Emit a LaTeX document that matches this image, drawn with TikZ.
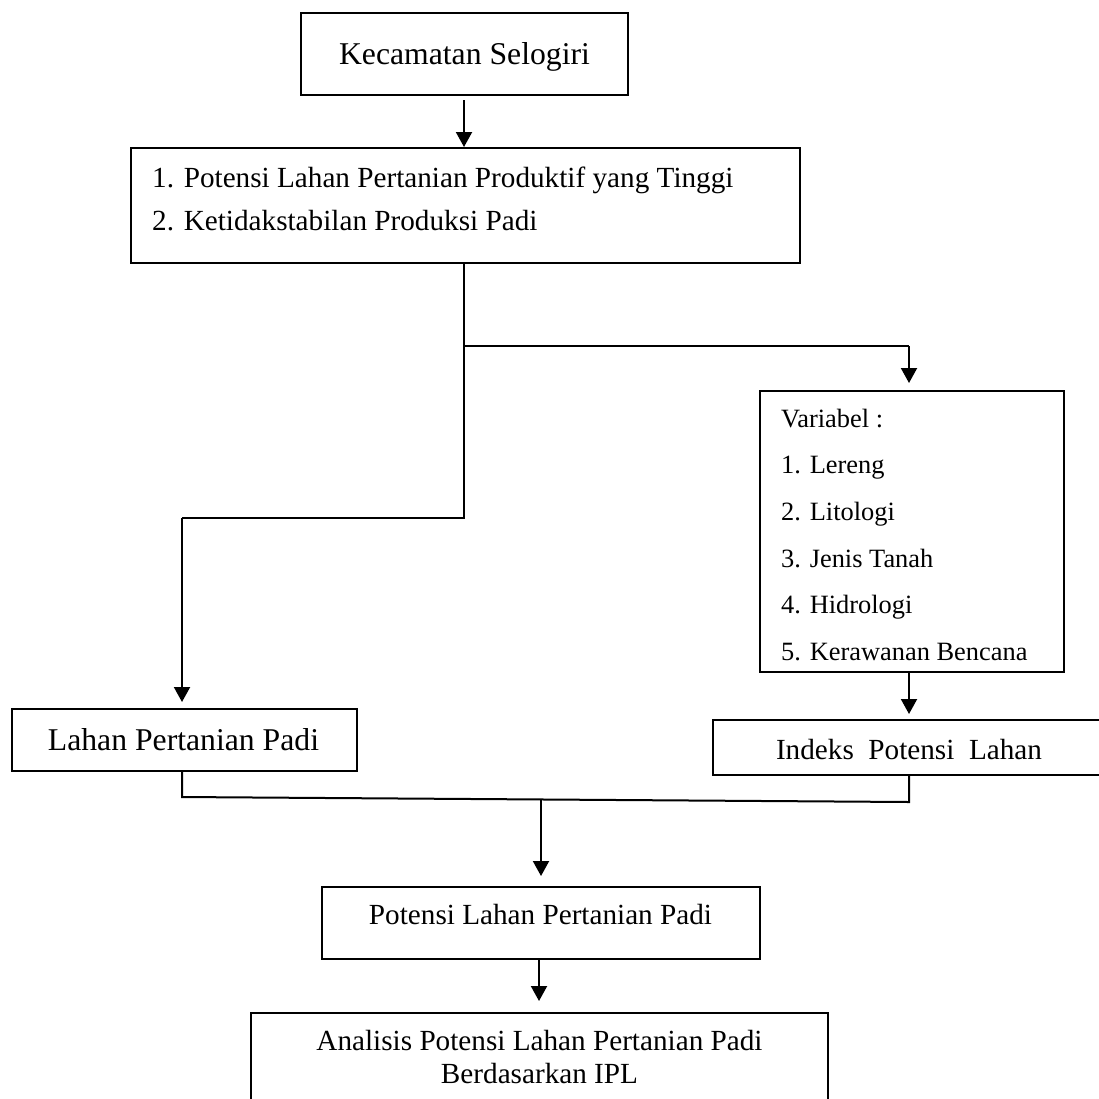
\documentclass[tikz,border=0pt]{standalone}
\usepackage{fontspec}
\setmainfont{Liberation Serif}
\usetikzlibrary{arrows.meta}
\tikzset{
  box/.style={draw, line width=2pt, rectangle, inner sep=0pt},
  conn/.style={line width=2pt},
  arr/.style={line width=2pt, -{Triangle[length=15pt, width=16pt]}},
  txt/.style={inner sep=0pt, anchor=base},
  txtw/.style={inner sep=0pt, anchor=base west},
  fbig/.style={font=\fontsize{31.7}{38}\selectfont},
  fmid/.style={font=\fontsize{29.2}{35}\selectfont},
  fsmall/.style={font=\fontsize{26.4}{32}\selectfont}
}
\begin{document}
\begin{tikzpicture}[x=1pt, y=-1pt]
\useasboundingbox (0,0) rectangle (1099,1098);
\clip (0,0) rectangle (1099,1098);
\fill[white] (0,0) rectangle (1099,1098);

% boxes
\node[box, minimum width=327pt, minimum height=82pt] (b1) at (464.5,54) {};
\node[box, minimum width=669pt, minimum height=115pt] (b2) at (465.5,205.5) {};
\node[box, minimum width=304pt, minimum height=281pt] (b3) at (912,531.5) {};
\node[box, minimum width=345pt, minimum height=62pt] (b4) at (184.5,740) {};
\node[box, minimum width=392pt, minimum height=55pt] (b5) at (909,747.5) {};
\node[box, minimum width=438pt, minimum height=72pt] (b6) at (541,923) {};
\node[box, minimum width=577pt, minimum height=117pt] (b7) at (539.5,1071.5) {};

% texts
\node[txt, fbig] (t1) at (464.5,64.5) {Kecamatan Selogiri};
\node[txtw, fmid] (t2a) at (152,187) {1. Potensi Lahan Pertanian Produktif yang Tinggi};
\node[txtw, fmid] (t2b) at (152,230) {2. Ketidakstabilan Produksi Padi};
\node[txtw, fsmall] (t3a) at (781,427) {Variabel :};
\node[txtw, fsmall] (t3b) at (781,473) {1. Lereng};
\node[txtw, fsmall] (t3c) at (781,520) {2. Litologi};
\node[txtw, fsmall] (t3d) at (781,567) {3. Jenis Tanah};
\node[txtw, fsmall] (t3e) at (781,613) {4. Hidrologi};
\node[txtw, fsmall] (t3f) at (781,660) {5. Kerawanan Bencana};
\node[txt, fbig] (t4) at (183.5,750) {Lahan Pertanian Padi};
\node[txt, fmid] (t5) at (909,759) {Indeks~ Potensi~ Lahan};
\node[txt, fmid] (t6) at (540.5,924.5) {Potensi Lahan Pertanian Padi};
\node[txt, fmid] (t7a) at (539.5,1050) {Analisis Potensi Lahan Pertanian Padi};
\node[txt, fmid] (t7b) at (539.5,1083) {Berdasarkan IPL};

% junction coordinates
\coordinate (j1) at (464,346);
\coordinate (j2) at (464,518);
\coordinate (j3) at (182,518);
\coordinate (j4) at (909,346);
\coordinate (k1) at (182,797);
\coordinate (k2) at (909,802);
\coordinate (k3) at (541,799.5);
\coordinate (k4) at (539,959);

% connectors
\draw[arr, shorten <=4pt] (j1 |- b1.south) -- (j1 |- b2.north);
\draw[conn] (j1 |- b2.south) -- (j2) -- (j3);
\draw[conn] (j1) -- (j4);
\draw[arr, shorten >=7pt] (j4) -- (j4 |- b3.north);
\draw[arr, shorten >=6pt] (j3) -- (j3 |- b4.north);
\draw[arr, shorten >=5pt] (j4 |- b3.south) -- (j4 |- b5.north);
\draw[conn] (k1 |- b4.south) -- (k1) -- (k2) -- (b5.south);
\draw[arr, shorten >=10pt] (k3) -- (k3 |- b6.north);
\draw[arr, shorten >=11pt] (k4 |- b6.south) -- (k4 |- b7.north);
\end{tikzpicture}
\end{document}
